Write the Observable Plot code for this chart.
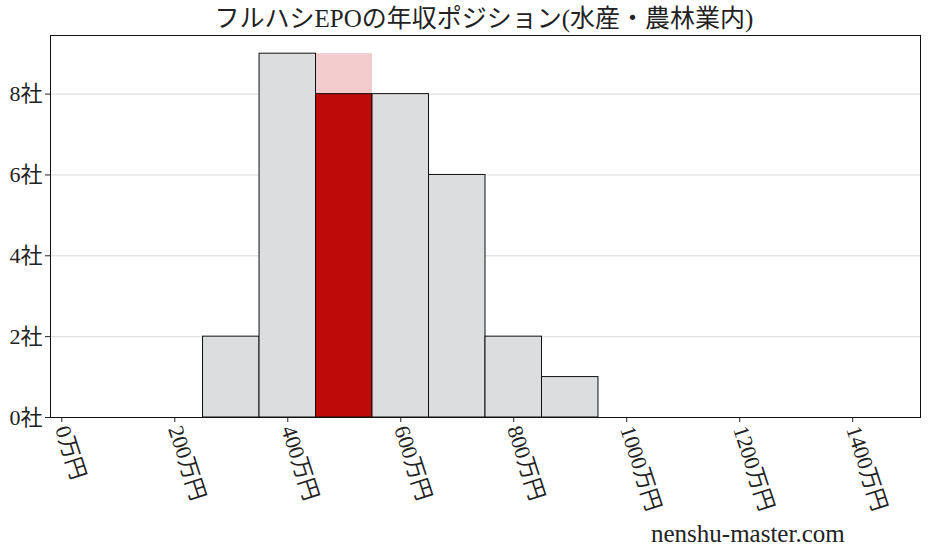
<!DOCTYPE html>
<html>
<head>
<meta charset="utf-8">
<script src="https://cdn.jsdelivr.net/npm/d3@7"></script>
<script src="https://cdn.jsdelivr.net/npm/@observablehq/plot@0.6"></script>
<style>
  body { margin: 0; background: #fff; }
  #wrap { position: relative; width: 928px; height: 557px; font-family: "Liberation Serif", "Noto Sans CJK JP", serif; }
  #title { height: 34px; line-height: 38px; text-align: center; font-size: 25px; color: #222; padding-left: 40px; }
  #credit { position: absolute; left: 651px; top: 520px; font-size: 25px; color: #222; }
</style>
</head>
<body>
<div id="wrap">
  <div id="title">フルハシEPOの年収ポジション(水産・農林業内)</div>
  <div id="chart"></div>
  <div id="credit">nenshu-master.com</div>
</div>
<script>
const binCenters = [300, 400, 500, 600, 700, 800, 900];
const counts = [2, 9, 8, 8, 6, 2, 1];
const binWidth = 100;
const highlightCenter = 500;
const highlightTotal = 9;
const xTicks = [0, 200, 400, 600, 800, 1000, 1200, 1400];
const yTicks = [0, 2, 4, 6, 8];

const bars = binCenters.map((c, i) => ({
  x1: c - binWidth / 2, x2: c + binWidth / 2, y: counts[i], hi: c === highlightCenter
}));
const ghost = [{ x1: highlightCenter - binWidth / 2, x2: highlightCenter + binWidth / 2, y: highlightTotal }];

const chart = Plot.plot({
  width: 928,
  height: 522,
  marginLeft: 50,
  marginRight: 8,
  marginTop: 1,
  marginBottom: 139,
  style: { fontFamily: '"Liberation Serif", "Noto Sans CJK JP", serif', fontSize: "22px", color: "#222", background: "#fff" },
  x: { domain: [-20, 1520] },
  y: { domain: [0, 9.45] },
  marks: [
    Plot.gridY(yTicks, { stroke: "#d0d0d0", strokeOpacity: 1, strokeWidth: 0.8 }),
    Plot.rectY(ghost, { x1: "x1", x2: "x2", y: "y", fill: "#f2cccc" }),
    Plot.rectY(bars, { x1: "x1", x2: "x2", y: "y", fill: d => d.hi ? "#bf0a0a" : "#dcdddf", stroke: "#111", strokeWidth: 1 }),
    Plot.frame({ stroke: "#111", strokeWidth: 1 }),
    Plot.axisX(xTicks, { tickFormat: d => d + "万円", tickRotate: 72, tickSize: 5, tickPadding: 4, fontSize: 22, label: null, textAnchor: "start" }),
    Plot.axisY(yTicks, { tickFormat: d => d + "社", tickSize: 5, tickPadding: 3, fontSize: 22, label: null })
  ]
});
document.getElementById("chart").appendChild(chart);
</script>
</body>
</html>
